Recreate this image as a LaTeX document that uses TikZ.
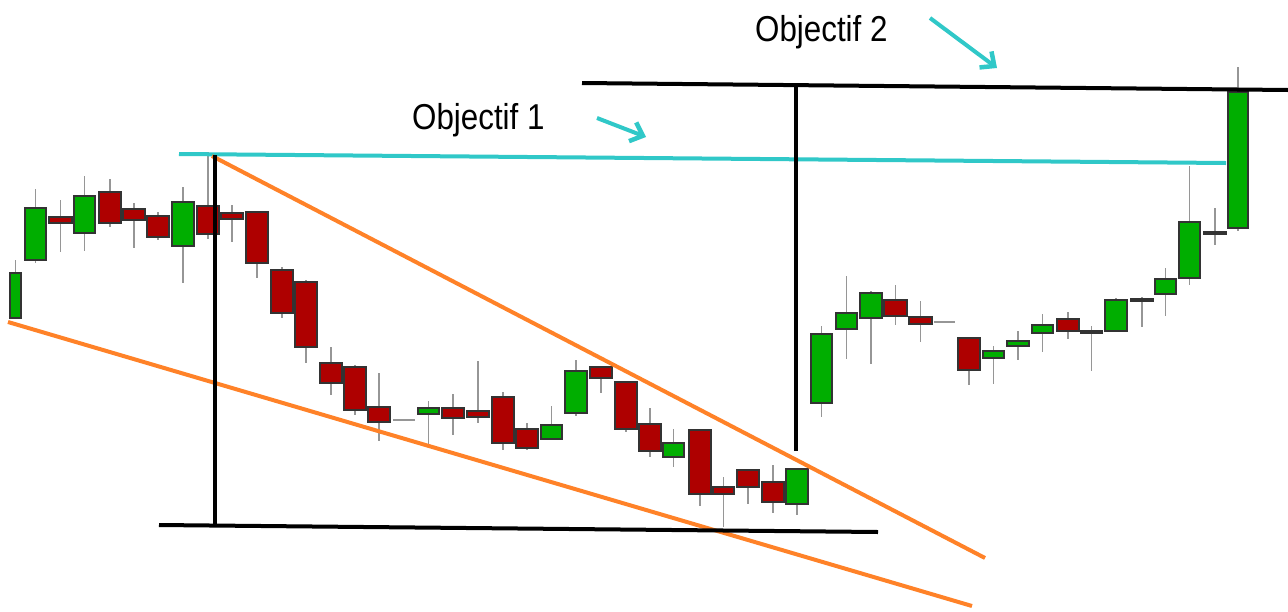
\documentclass[tikz,border=0pt]{standalone}
\usepackage{fontspec}
\setmainfont{Liberation Sans}
\usetikzlibrary{arrows.meta}
\definecolor{cgreen}{RGB}{0,174,0}
\definecolor{cred}{RGB}{174,0,0}
\definecolor{ccyan}{RGB}{48,200,200}
\definecolor{corange}{RGB}{255,130,40}
\definecolor{cwick}{RGB}{150,150,150}
\begin{document}
\begin{tikzpicture}[x=1pt,y=-1pt,
  wick/.style={draw=cwick,line width=1.3pt},
  body/.style={draw=black!80,line width=1.1pt},
  dojiline/.style={draw=cwick,line width=1.3pt},
  level/.style={draw=black,line width=4pt},
  target/.style={draw=ccyan,line width=4pt},
  trend/.style={draw=corange,line width=4pt},
  pointer/.style={draw=ccyan,line width=4pt,-{Straight Barb[length=11pt,width=20pt,line width=4.5pt]}},
  label/.style={anchor=base west,inner sep=0pt,font=\fontsize{36}{40}\selectfont}]
\useasboundingbox (0,0) rectangle (1288,611);
\fill[white] (0,0) rectangle (1288,611);
% candles: left/right/bodytop/bodybottom/wicktop/wickbottom/colour
\foreach \a/\b/\t/\u/\wt/\wb/\c in {
  10/21/273/318/260/318/cgreen,
  25/46/208/260/189/263/cgreen,
  49/72/217/223/200/252/cred,
  74/95/196/233/176/251/cgreen,
  99/121/192/223/179/227/cred,
  123/145/209/220/203/248/cred,
  147/169/216/237/212/240/cred,
  172/194/202/246/187/283/cgreen,
  197/219/206/234/152/239/cred,
  221/243/213/219/205/242/cred,
  246/268/212/263/211/278/cred,
  271/293/270/313/267/318/cred,
  295/317/282/347/280/363/cred,
  320/342/363/383/347/395/cred,
  344/366/367/410/365/415/cred,
  368/390/407/422/373/441/cred,
  418/439/408/414/401/447/cgreen,
  442/464/408/418/394/435/cred,
  467/489/411/417/361/423/cred,
  492/514/397/443/392/450/cred,
  516/538/429/448/423/450/cred,
  541/562/425/439/406/439/cgreen,
  565/587/371/413/360/416/cgreen,
  590/612/367/378/367/393/cred,
  615/637/382/429/382/432/cred,
  639/661/424/451/408/457/cred,
  663/684/443/457/429/467/cgreen,
  689/711/430/494/430/506/cred,
  713/734/487/494/477/527/cred,
  737/759/470/487/470/504/cred,
  762/784/482/502/465/513/cred,
  786/808/469/504/469/515/cgreen,
  811/832/334/403/326/417/cgreen,
  836/857/313/329/276/359/cgreen,
  860/882/293/318/291/364/cgreen,
  884/907/300/316/285/325/cred,
  909/932/317/324/301/342/cred,
  958/980/338/370/337/385/cred,
  983/1004/351/358/346/384/cgreen,
  1007/1029/341/346/331/360/cgreen,
  1032/1053/325/333/314/352/cgreen,
  1057/1079/319/331/312/339/cred,
  1081/1102/331/333/326/371/cgreen,
  1105/1127/300/331/298/331/cgreen,
  1131/1153/299/301/297/327/cgreen,
  1155/1176/279/294/268/316/cgreen,
  1179/1200/222/278/166/285/cgreen,
  1204/1226/232/234/208/245/cgreen,
  1228/1248/92/228/67/231/cgreen}{
  \draw[wick] ({(\a+\b)/2},\wt) -- ({(\a+\b)/2},\wb);
  \filldraw[body,fill=\c] (\a,\t) rectangle (\b,\u);
}
% doji bars drawn as plain grey ticks
\draw[dojiline] (393,420) -- (415,420);
\draw[dojiline] (934,322) -- (955,322);
% key points
\coordinate (bl) at (159,525);
\coordinate (br) at (878,532);
\coordinate (vb) at (215,525);
\coordinate (vt) at (215,155);
\coordinate (tl) at (582,83);
\coordinate (tr) at (1288,90);
\coordinate (v2t) at (796,86);
\coordinate (v2b) at (796,451);
\coordinate (cl) at (179,154);
\coordinate (cr) at (1226,163);
\coordinate (ua) at (212,156);
\coordinate (ub) at (985,558);
\coordinate (la) at (8,322);
\coordinate (lb) at (972,606);
% lines
\draw[target] (cl) -- (cr);
\draw[trend] (ua) -- (ub);
\draw[trend] (la) -- (lb);
\draw[level] (bl) -- (br);
\draw[level] (vt) -- (vb);
\draw[level] (tl) -- (tr);
\draw[level] (v2t) -- (v2b);
% labels
\node[label] (obj1) at (412,129) {\scalebox{0.87}[1]{Objectif 1}};
\node[label] (obj2) at (755,41) {\scalebox{0.87}[1]{Objectif 2}};
\coordinate (p1s) at (597,118);
\coordinate (p1e) at (646,137);
\coordinate (p2s) at (930,18);
\coordinate (p2e) at (997,68);
\draw[pointer] (p1s) -- (p1e);
\draw[pointer] (p2s) -- (p2e);
\end{tikzpicture}
\end{document}
